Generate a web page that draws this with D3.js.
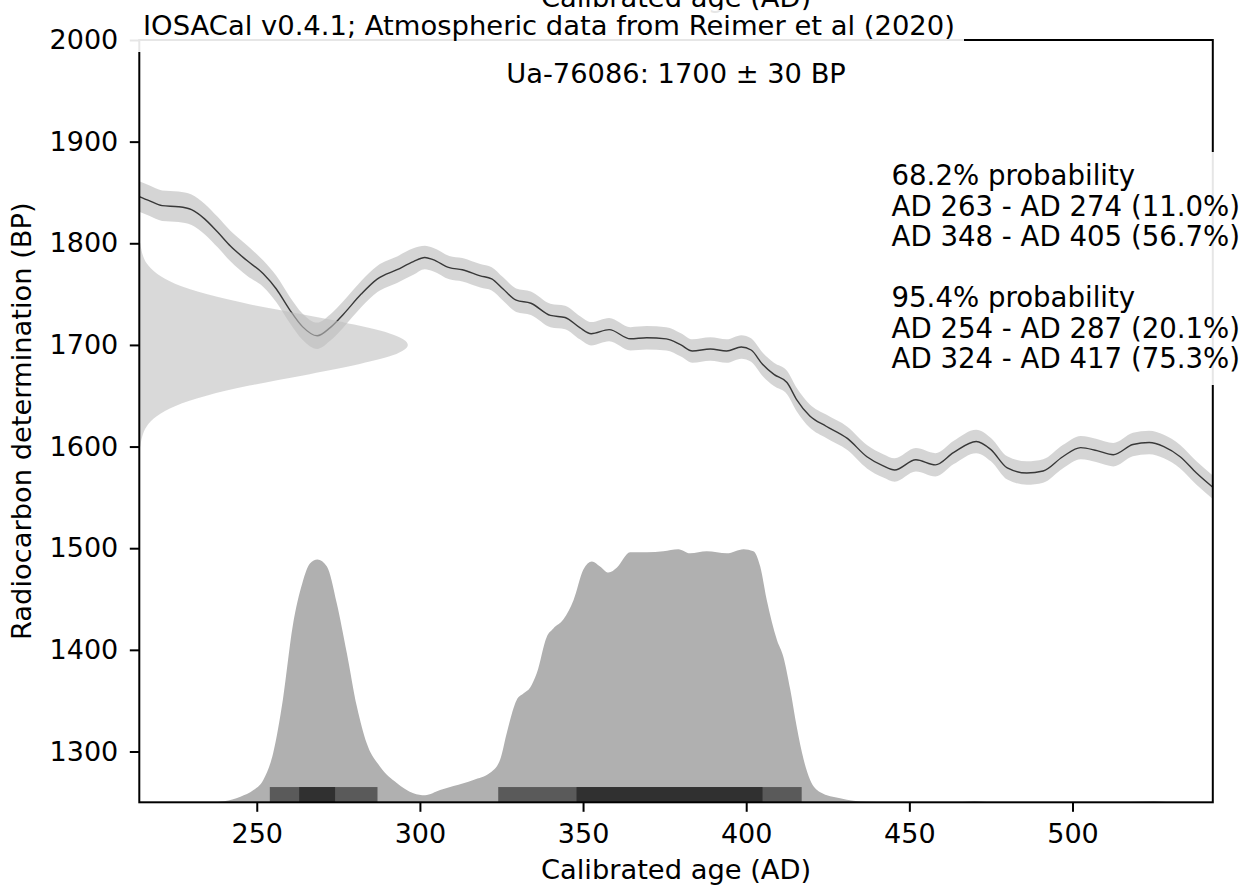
<!DOCTYPE html>
<html>
<head>
<meta charset="utf-8">
<script src="https://cdn.jsdelivr.net/npm/d3@7"></script>
<style>
  body { margin: 0; background: #fff; }
  svg { display: block; font-family: "DejaVu Sans", sans-serif; }
</style>
</head>
<body>
<div class="graph"></div>
<script>
// calibration curve (IntCal20 section)
const curveYears = [214, 217, 221, 226, 230, 234, 238, 242, 247, 252, 256, 260, 264, 268.5, 272.5,
  276.5, 282, 287, 293, 298, 301.5, 304, 309, 313, 318.5, 322, 325.5, 329.5, 334, 340,
  344.5, 349, 352.5, 358, 364.5, 369.5, 375.5, 380, 383.5, 389, 394, 398.5, 401.5, 405, 408.5,
  412.5, 415.5, 419.5, 424.5, 431, 437, 442, 445.5, 452, 458, 463.5, 470.5, 475, 480, 486,
  491, 497, 502.5, 507.5, 512.5, 518.5, 523.5, 528, 533, 538, 543];
const curveBP = [1846, 1842, 1837, 1836, 1833, 1824, 1811, 1797, 1783, 1770, 1755, 1735, 1718, 1709, 1717,
  1730, 1750, 1765, 1774, 1782, 1786, 1784, 1776, 1774, 1768, 1765, 1755, 1744, 1741, 1729,
  1727, 1717, 1711, 1715, 1706, 1707, 1706, 1700, 1694, 1696, 1694, 1698, 1695, 1681, 1671,
  1663, 1646, 1630, 1620, 1608, 1590, 1581, 1577, 1587, 1582, 1594, 1605, 1597, 1579, 1574,
  1576, 1590, 1599, 1596, 1592, 1602, 1604, 1600, 1590, 1574, 1560];
const curveSigma = [15, 15, 15, 15, 15, 15, 15, 15, 15, 13, 13, 13, 13, 13, 13,
  13, 13, 13, 13, 13, 11.5, 11.5, 11.5, 11.5, 11.5, 11.5, 11.5, 11.5, 11.5, 11.5,
  11.5, 11.5, 11.5, 11.5, 11.5, 11.5, 11.5, 11.5, 11.5, 11.5, 11.5, 11.5, 11.5, 11.5, 11.5,
  11.5, 11.5, 11.5, 11.5, 11.5, 11.5, 11.5, 11.5, 11.5, 11.5, 11.5, 11.5, 11.5, 11.5, 11.5,
  11.5, 11.5, 11.5, 11.5, 11.5, 11.5, 11.5, 11.5, 11.5, 11.5, 11.5];

// radiocarbon date 1700 +/- 30 BP, relative density
const dateBP = [1600, 1610, 1620, 1630, 1640, 1650, 1660, 1670, 1680, 1690, 1700,
  1710, 1720, 1730, 1740, 1750, 1760, 1770, 1780, 1790, 1800];
const dateDensity = [0.004, 0.011, 0.028, 0.066, 0.135, 0.25, 0.41, 0.61, 0.80, 0.946, 1,
  0.946, 0.80, 0.61, 0.41, 0.25, 0.135, 0.066, 0.028, 0.011, 0.004];

// calibrated age distribution, relative probability
const calYears = [236, 240, 245, 249, 252, 255, 258, 261, 264, 266.3, 268.6, 271.5, 274.5, 277.6, 280.7,
  283.7, 287.8, 292.9, 298, 301.6, 306.2, 310.3, 316.4, 321.5, 324.6, 326.6, 329.7, 331.7, 333.8, 335.8,
  338.9, 340.9, 344, 347.1, 350.1, 352.7, 355.2, 357.8, 360.4, 364.4, 369.6, 374.6, 379.2, 382.8, 387.9,
  394.1, 399.2, 402.2, 404.3, 406.3, 409.4, 411.4, 413.5, 415.5, 417.6, 419.6, 422.7, 428.8, 437, 450,
  465, 470, 475, 515, 525, 530, 543];
const calProb = [0, 0.004, 0.022, 0.048, 0.088, 0.192, 0.404, 0.692, 0.864, 0.94, 0.956, 0.928, 0.784, 0.588, 0.376,
  0.232, 0.14, 0.076, 0.036, 0.028, 0.048, 0.064, 0.088, 0.116, 0.168, 0.272, 0.404, 0.428, 0.452, 0.508,
  0.652, 0.684, 0.72, 0.796, 0.916, 0.948, 0.928, 0.904, 0.924, 0.984, 0.984, 0.988, 0.996, 0.98, 0.988,
  0.98, 0.996, 0.988, 0.928, 0.796, 0.64, 0.572, 0.444, 0.296, 0.168, 0.088, 0.04, 0.016, 0.002, 0,
  0, 0.004, 0, 0, 0.004, 0, 0];

const ranges95 = [[254, 287], [324, 417]];
const ranges68 = [[263, 274], [348, 405]];

const xTicks = [250, 300, 350, 400, 450, 500];
const yTicks = [1300, 1400, 1500, 1600, 1700, 1800, 1900, 2000];

const titleText = 'IOSACal v0.4.1; Atmospheric data from Reimer et al (2020)';
const dateText = 'Ua-76086: 1700 \u00b1 30 BP';
const rangeLines = ['68.2% probability', 'AD 263 - AD 274 (11.0%)', 'AD 348 - AD 405 (56.7%)', '',
  '95.4% probability', 'AD 254 - AD 287 (20.1%)', 'AD 324 - AD 417 (75.3%)'];

const width = 1249;
const height = 888;
const plotLeft = 139.3, plotRight = 1212.8, plotTop = 40, plotBottom = 802.3;
const fs = 27.3;

const svg = d3.select('.graph').append('svg')
  .attr('width', width)
  .attr('height', height);

const x = d3.scaleLinear().domain([214, 543]).range([plotLeft, plotRight]);
const y = d3.scaleLinear().domain([1250, 2000]).range([plotBottom, plotTop]);
const densX = d3.scaleLinear().domain([0, 1]).range([214, 296.3]);
const probY = d3.scaleLinear().domain([0, 1]).range([1250, 1500]);

const curve = curveYears.map((yr, i) => ({ yr, bp: curveBP[i], s: curveSigma[i] }));

// calibration curve band and mean
svg.append('path')
  .datum(curve)
  .attr('fill', '#000')
  .attr('fill-opacity', 0.165)
  .attr('d', d3.area()
    .x(d => x(d.yr))
    .y0(d => y(d.bp - d.s))
    .y1(d => y(d.bp + d.s))
    .curve(d3.curveMonotoneX));

svg.append('path')
  .datum(curve)
  .attr('fill', 'none')
  .attr('stroke', '#383838')
  .attr('stroke-width', 1.4)
  .attr('d', d3.line()
    .x(d => x(d.yr))
    .y(d => y(d.bp))
    .curve(d3.curveMonotoneX));

// radiocarbon date distribution on the y axis
const dateData = dateBP.map((bp, i) => ({ bp, v: dateDensity[i] }));
svg.append('path')
  .datum(dateData)
  .attr('fill', '#c0c0c0')
  .attr('fill-opacity', 0.6)
  .attr('d', d3.area()
    .y(d => y(d.bp))
    .x0(x(214))
    .x1(d => x(densX(d.v)))
    .curve(d3.curveMonotoneY));

// calibrated distribution
const calData = calYears.map((yr, i) => ({ yr, p: calProb[i] }));
svg.append('path')
  .datum(calData)
  .attr('fill', '#b0b0b0')
  .attr('d', d3.area()
    .x(d => x(d.yr))
    .y0(y(1250))
    .y1(d => y(probY(d.p)))
    .curve(d3.curveMonotoneX));

// interval bars
svg.selectAll('.r95')
  .data(ranges95)
  .enter().append('rect')
  .attr('x', d => x(d[0]))
  .attr('width', d => x(d[1]) - x(d[0]))
  .attr('y', y(1265))
  .attr('height', y(1250) - y(1265))
  .attr('fill', '#5a5a5a');

svg.selectAll('.r68')
  .data(ranges68)
  .enter().append('rect')
  .attr('x', d => x(d[0]))
  .attr('width', d => x(d[1]) - x(d[0]))
  .attr('y', y(1265))
  .attr('height', y(1250) - y(1265))
  .attr('fill', '#303030');

// axes
const xAxis = svg.append('g')
  .attr('transform', 'translate(0,' + plotBottom + ')')
  .call(d3.axisBottom(x).tickValues(xTicks).tickFormat(d3.format('d'))
    .tickSize(9.5).tickPadding(12.2).tickSizeOuter(0));
const yAxis = svg.append('g')
  .attr('transform', 'translate(' + plotLeft + ',0)')
  .call(d3.axisLeft(y).tickValues(yTicks).tickFormat(d3.format('d'))
    .tickSize(9.5).tickPadding(11.5).tickSizeOuter(0));

[xAxis, yAxis].forEach(a => {
  a.select('.domain').remove();
  a.selectAll('line').attr('stroke', '#000').attr('stroke-width', 2);
  a.selectAll('text')
    .attr('fill', '#000')
    .style('font-family', '"DejaVu Sans", sans-serif')
    .style('font-size', '27px');
});

// frame
svg.append('rect')
  .attr('x', plotLeft)
  .attr('y', plotTop)
  .attr('width', plotRight - plotLeft)
  .attr('height', plotBottom - plotTop)
  .attr('fill', 'none')
  .attr('stroke', '#000')
  .attr('stroke-width', 2);

// axis labels
svg.append('text')
  .attr('x', (plotLeft + plotRight) / 2)
  .attr('y', 879)
  .attr('text-anchor', 'middle')
  .style('font-size', fs + 'px')
  .text('Calibrated age (AD)');

// the top label is cut off by the figure edge
svg.append('text')
  .attr('x', (plotLeft + plotRight) / 2)
  .attr('y', 7)
  .attr('text-anchor', 'middle')
  .style('font-size', fs + 'px')
  .text('Calibrated age (AD)');

svg.append('text')
  .attr('transform', 'translate(31,' + ((plotTop + plotBottom) / 2) + ') rotate(-90)')
  .attr('text-anchor', 'middle')
  .style('font-size', fs + 'px')
  .text('Radiocarbon determination (BP)');

// title with white box over the frame
svg.append('rect')
  .attr('x', 128)
  .attr('y', 10)
  .attr('width', 836)
  .attr('height', 42)
  .attr('fill', '#fff')
  .attr('fill-opacity', 0.9);

svg.append('text')
  .attr('x', 143)
  .attr('y', 35)
  .style('font-size', '27.4px')
  .text(titleText);

svg.append('text')
  .attr('x', (plotLeft + plotRight) / 2)
  .attr('y', 83)
  .attr('text-anchor', 'middle')
  .style('font-size', fs + 'px')
  .text(dateText);

// probability ranges box
svg.append('rect')
  .attr('x', 884)
  .attr('y', 152)
  .attr('width', 362)
  .attr('height', 233)
  .attr('fill', '#fff')
  .attr('fill-opacity', 0.9);

svg.append('g').selectAll('text')
  .data(rangeLines)
  .enter().append('text')
  .attr('x', 891.5)
  .attr('y', (d, i) => 185 + i * 30.5)
  .style('font-size', '27.6px')
  .text(d => d);
</script>
</body>
</html>
